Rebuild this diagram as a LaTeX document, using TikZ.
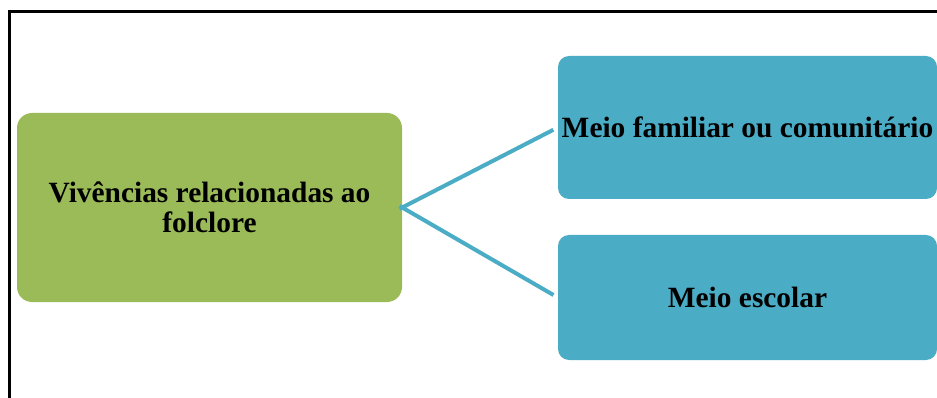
\documentclass[tikz,border=0pt]{standalone}
\usepackage{fontspec}
\setmainfont{Liberation Serif}
\definecolor{leafgreen}{HTML}{9BBB59}
\definecolor{skyblue}{HTML}{4BACC6}
\tikzset{
  topicbox/.style={fill=leafgreen, rounded corners=15pt, inner sep=0pt,
    align=center, font=\bfseries\fontsize{29.4}{30}\selectfont},
  areabox/.style={fill=skyblue, rounded corners=11pt, inner sep=0pt,
    align=center, font=\bfseries\fontsize{29.4}{30}\selectfont},
  link/.style={draw=skyblue, line width=4pt, shorten <=-3pt, shorten >=5pt}
}
\begin{document}
\begin{tikzpicture}[x=1pt, y=-1pt]
  \path[use as bounding box, clip] (0,0) rectangle (937,398);
  \fill[white] (0,0) rectangle (937,398);
  % outer frame
  \draw[line width=3pt] (9.5,420) -- (9.5,12) -- (960,12);
  % boxes
  \node[topicbox, minimum width=385pt, minimum height=189pt] (topic) at (209.5,207.5)
    {Vivências relacionadas ao\\folclore};
  \node[areabox, minimum width=379pt, minimum height=143pt] (family) at (747.5,127.5)
    {Meio familiar ou comunitário};
  \node[areabox, minimum width=379pt, minimum height=125pt] (school) at (747.5,297.5)
    {Meio escolar};
  % connectors
  \draw[link] (topic.east) -- (family.west);
  \draw[link] (topic.east) -- (school.west);
\end{tikzpicture}
\end{document}
